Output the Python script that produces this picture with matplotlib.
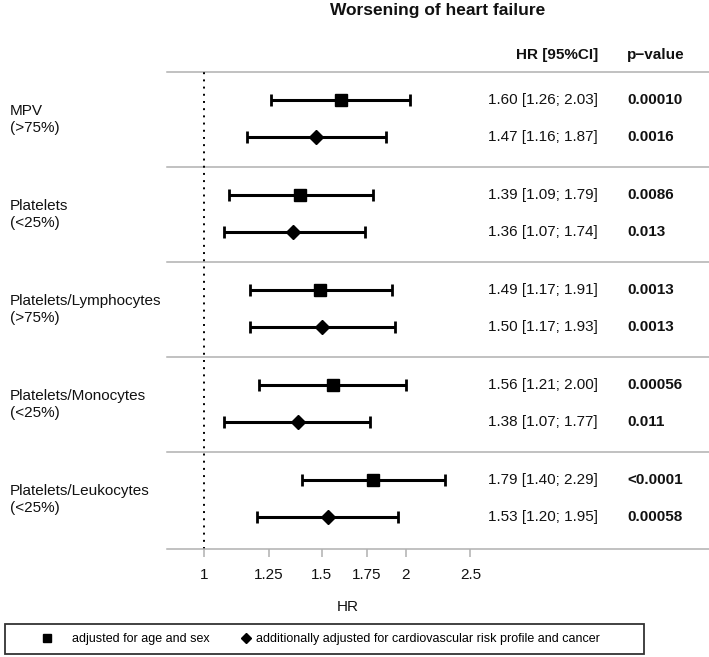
import matplotlib.pyplot as plt
from matplotlib.lines import Line2D
from matplotlib.patches import Rectangle
from matplotlib.transforms import blended_transform_factory

plt.rcParams['font.family'] = ['Liberation Sans', 'DejaVu Sans']

# data
groups = ['MPV\n(>75%)', 'Platelets\n(<25%)', 'Platelets/Lymphocytes\n(>75%)',
          'Platelets/Monocytes\n(<25%)', 'Platelets/Leukocytes\n(<25%)']
hr_age = [1.60, 1.39, 1.49, 1.56, 1.79]
lo_age = [1.26, 1.09, 1.17, 1.21, 1.40]
hi_age = [2.03, 1.79, 1.91, 2.00, 2.29]
p_age = ['0.00010', '0.0086', '0.0013', '0.00056', '<0.0001']
hr_adj = [1.47, 1.36, 1.50, 1.38, 1.53]
lo_adj = [1.16, 1.07, 1.17, 1.07, 1.20]
hi_adj = [1.87, 1.74, 1.93, 1.77, 1.95]
p_adj = ['0.0016', '0.013', '0.0013', '0.011', '0.00058']
ticks = [1, 1.25, 1.5, 1.75, 2, 2.5]
tick_labels = ['1', '1.25', '1.5', '1.75', '2', '2.5']

W, H = 709, 657
fig = plt.figure(figsize=(W / 100, H / 100), dpi=100)
ax = fig.add_axes([167 / W, 1 - 549 / H, (W - 167) / W, (549 - 72) / H])

# y in pixel rows, groups 95 px apart
y_age = [100 + 95 * g for g in range(len(groups))]
y_adj = [137 + 95 * g for g in range(len(groups))]
ax.set_ylim(549, 72)
ax.set_xscale('log')
ax.set_xlim(0.881, 5.675)

for g in range(len(groups)):
    ax.axhline(72 + 95 * g, color='#b0b0b0', lw=1.1, clip_on=False, zorder=1)
ax.axvline(1, color='black', lw=1.4, ls=(0, (1, 2.7)), zorder=1)

ax.errorbar(hr_age, y_age,
            xerr=[[h - l for h, l in zip(hr_age, lo_age)],
                  [u - h for h, u in zip(hr_age, hi_age)]],
            fmt='s', ms=8, color='black', elinewidth=2.2, capsize=4.3,
            capthick=2, zorder=3)
ax.errorbar(hr_adj, y_adj,
            xerr=[[h - l for h, l in zip(hr_adj, lo_adj)],
                  [u - h for h, u in zip(hr_adj, hi_adj)]],
            fmt='D', ms=7, color='black', elinewidth=2.2, capsize=4.3,
            capthick=2, zorder=3)

for s in ['top', 'left', 'right']:
    ax.spines[s].set_visible(False)
ax.spines['bottom'].set_color('#b0b0b0')
ax.spines['bottom'].set_linewidth(1.1)
ax.set_yticks([])
ax.set_xticks(ticks)
ax.set_xticklabels(tick_labels)
ax.minorticks_off()
ax.tick_params(axis='x', color='#b0b0b0', length=6, width=1.1, pad=8,
               labelsize=11, labelcolor='#111111')

trans = blended_transform_factory(fig.transFigure, ax.transData)
for g in range(len(groups)):
    for hr, lo, hi, p, y in [(hr_age[g], lo_age[g], hi_age[g], p_age[g], y_age[g]),
                             (hr_adj[g], lo_adj[g], hi_adj[g], p_adj[g], y_adj[g])]:
        ax.text(598 / W, y, f'{hr:.2f} [{lo:.2f}; {hi:.2f}]', transform=trans,
                ha='right', va='center', fontsize=11, color='#111111')
        ax.text(627 / W, y, p, transform=trans, ha='left', va='center',
                fontsize=11, fontweight='bold', color='#111111')
    ax.text(10 / W, 119.5 + 95 * g, groups[g], transform=trans, ha='left',
            va='center', fontsize=11, linespacing=1.25, color='#111111')

ax.text(598 / W, 55, 'HR [95%CI]', transform=trans, ha='right', va='center',
        fontsize=11, fontweight='bold', color='#111111')
ax.text(627 / W, 55, 'p\u2212value', transform=trans, ha='left', va='center',
        fontsize=11, fontweight='bold', color='#111111')

fig.text(438 / W, 1 - 10 / H, 'Worsening of heart failure', ha='center',
         va='center', fontsize=12.5, fontweight='bold', color='#111111')
fig.text(348 / W, 1 - 607 / H, 'HR', ha='center', va='center', fontsize=11,
         color='#111111')

# legend box
fig.add_artist(Rectangle((5 / W, 1 - 654 / H), 639 / W, 30 / H, fill=False,
                         edgecolor='#333333', lw=1.3, transform=fig.transFigure))
h1 = Line2D([], [], marker='s', ls='none', color='black', ms=5.5)
h2 = Line2D([], [], marker='D', ls='none', color='black', ms=5)
fig.legend(handles=[h1], labels=['adjusted for age and sex'], loc='center left',
           bbox_to_anchor=(41 / W, 1 - 639 / H), frameon=False, fontsize=9,
           handlelength=1, handletextpad=1.48, borderpad=0, borderaxespad=0)
fig.legend(handles=[h2],
           labels=['additionally adjusted for cardiovascular risk profile and cancer'],
           loc='center left', bbox_to_anchor=(240 / W, 1 - 639 / H), frameon=False,
           fontsize=9, handlelength=1, handletextpad=0.28, borderpad=0,
           borderaxespad=0)

fig.savefig('out.png', dpi=100)
